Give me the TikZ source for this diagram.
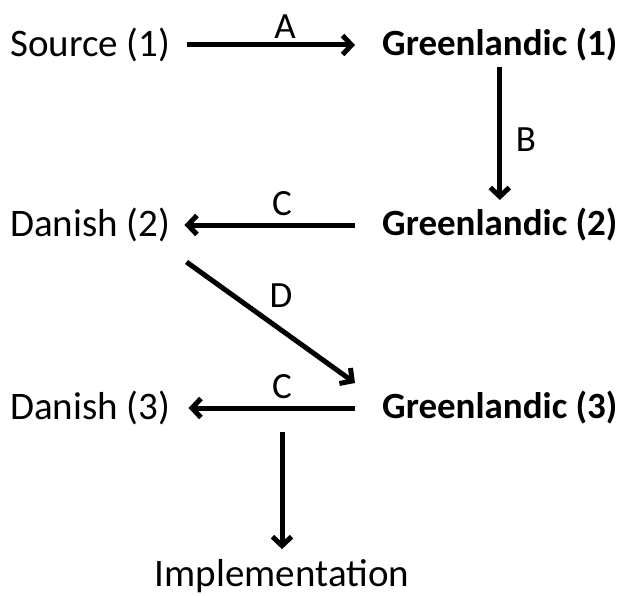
\documentclass[tikz,border=0pt]{standalone}
\usepackage{fontspec}
\setmainfont{Carlito}
\usetikzlibrary{arrows.meta,calc}
\begin{document}
\begin{tikzpicture}[x=1pt,y=-1pt,
  lbl/.style={inner sep=0pt,font=\fontsize{39}{42}\selectfont},
  gl/.style={inner sep=0pt,font=\fontsize{37}{40}\selectfont\bfseries},
  edge/.style={line width=5pt,-{Straight Barb[length=9pt,width=19pt,line width=5pt]}},
  elab/.style={inner sep=0pt,font=\fontsize{37}{40}\selectfont}]
\useasboundingbox (0,0) rectangle (618,596);
\node[lbl,anchor=west] (s1) at (10,45) {Source (1)};
\node[gl,anchor=west] (g1) at (382,45) {Greenlandic (1)};
\node[lbl,anchor=west] (d2) at (10,225) {Danish (2)};
\node[gl,anchor=west] (g2) at (382,225) {Greenlandic (2)};
\node[lbl,anchor=west] (d3) at (10,408) {Danish (3)};
\node[gl,anchor=west] (g3) at (382,408) {Greenlandic (3)};
\node[lbl] (impl) at (282,576) {Implementation};
\draw[edge] ([xshift=16]s1.east) -- ([xshift=-27]g1.west);
\node[elab] (la) at (285,27) {A};
\draw[edge] ([yshift=-22]g1.center) -- ([yshift=25]g2.center);
\node[elab] (lb) at (526,140) {B};
\draw[edge] ([xshift=-27]g2.west) -- ([xshift=14]d2.east);
\node[elab] (lc1) at (282,204) {C};
\draw[edge] ([xshift=16,yshift=-37]d2.east) -- (355,383) coordinate (dend);
\node[elab] (ld) at (281,296) {D};
\draw[edge] ([xshift=-27]g3.west) -- ([xshift=18]d3.east);
\node[elab] (lc2) at (282,387) {C};
\coordinate (istart) at (282,432);
\draw[edge] (istart) -- ([yshift=10]impl.north);
\end{tikzpicture}
\end{document}
